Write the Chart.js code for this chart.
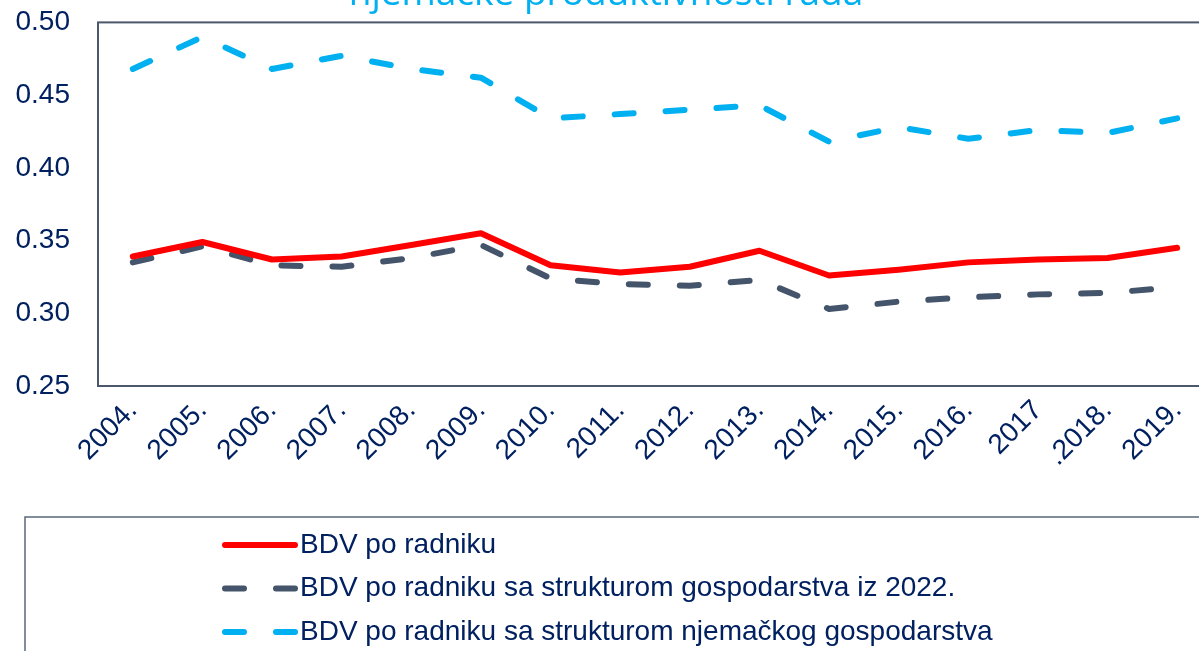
<!DOCTYPE html>
<html>
<head>
<meta charset="utf-8">
<script src="https://cdn.jsdelivr.net/npm/chart.js@4.4.0/dist/chart.umd.min.js"></script>
<style>
html, body { margin: 0; padding: 0; background: #fff; overflow: hidden; width: 1199px; height: 651px; }
#wrap { position: absolute; left: 0; top: -40px; width: 1215px; height: 691px; }
</style>
</head>
<body>
<div id="wrap"><canvas id="chart"></canvas></div>
<script>
const years = ["2004.", "2005.", "2006.", "2007.", "2008.", "2009.", "2010.", "2011.", "2012.", "2013.", "2014.", "2015.", "2016.", "2017", ".2018.", "2019."];
const bdvPoRadniku = [0.339, 0.349, 0.337, 0.339, 0.347, 0.355, 0.333, 0.328, 0.332, 0.343, 0.326, 0.330, 0.335, 0.337, 0.338, 0.345];
const bdvStruktura2022 = [0.335, 0.346, 0.333, 0.332, 0.338, 0.347, 0.324, 0.320, 0.319, 0.323, 0.303, 0.308, 0.311, 0.313, 0.314, 0.318];
const bdvStrukturaNjem = [0.468, 0.490, 0.468, 0.477, 0.468, 0.462, 0.434, 0.437, 0.440, 0.443, 0.418, 0.428, 0.420, 0.426, 0.424, 0.434];
const seriesNames = [
    "BDV po radniku",
    "BDV po radniku sa strukturom gospodarstva iz 2022.",
    "BDV po radniku sa strukturom njemačkog gospodarstva",
];
const titleText = "njemačke produktivnosti rada";
const yMin = 0.25, yMax = 0.50, yStep = 0.05;

const textColor = "#002060";
const fontFamily = "'Liberation Sans', Arial, sans-serif";
Chart.defaults.font.family = fontFamily;

// box round the plot area (right side falls outside the window)
const plotFrame = {
    id: "plotFrame",
    beforeDatasetsDraw(chart) {
        let {ctx, chartArea} = chart;
        ctx.save();
        ctx.strokeStyle = "#4B586C";
        ctx.lineWidth = 2;
        ctx.strokeRect(chartArea.left, chartArea.top, chartArea.right - chartArea.left, chartArea.bottom - chartArea.top);
        ctx.restore();
    }
};

// framed legend list under the axis, like the Excel one
const boxLegend = {
    id: "boxLegend",
    afterDraw(chart) {
        let {ctx, chartArea} = chart;
        let top = chartArea.bottom + 131;
        ctx.save();
        ctx.strokeStyle = "#5A687C";
        ctx.lineWidth = 1.5;
        ctx.strokeRect(25, top, 1400, 400);
        chart.data.datasets.forEach((ds, i) => {
            let y = top + 28 + i * 43.5;
            ctx.beginPath();
            ctx.strokeStyle = ds.borderColor;
            ctx.lineWidth = ds.borderWidth;
            ctx.lineCap = "round";
            ctx.setLineDash(ds.borderDash || []);
            ctx.moveTo(225, y);
            ctx.lineTo(295, y);
            ctx.stroke();
            ctx.setLineDash([]);
            ctx.fillStyle = textColor;
            ctx.font = `28px ${fontFamily}`;
            ctx.textBaseline = "middle";
            ctx.textAlign = "left";
            ctx.fillText(ds.label, 300, y);
        });
        ctx.restore();
    }
};

const lineStyle = {
    pointRadius: 0,
    pointHoverRadius: 0,
    borderWidth: 6,
    tension: 0,
    fill: false,
    borderCapStyle: "round",
    borderJoinStyle: "round",
};

new Chart(document.getElementById("chart"), {
    type: "line",
    data: {
        labels: years,
        datasets: [
            {...lineStyle, label: seriesNames[0], data: bdvPoRadniku, borderColor: "#FF0000", backgroundColor: "#FF0000"},
            {...lineStyle, label: seriesNames[1], data: bdvStruktura2022, borderColor: "#44546A", backgroundColor: "#44546A", borderDash: [19, 32]},
            {...lineStyle, label: seriesNames[2], data: bdvStrukturaNjem, borderColor: "#00B0F0", backgroundColor: "#00B0F0", borderDash: [19, 32]},
        ],
    },
    options: {
        responsive: true,
        maintainAspectRatio: false,
        animation: false,
        layout: { padding: { left: 0, right: 3, top: 0, bottom: 0 } },
        plugins: {
            legend: { display: false },
            tooltip: { enabled: false },
            title: {
                display: true,
                text: titleText,
                color: "#00B0F0",
                font: { family: "'Open Sans', sans-serif", size: 37, weight: "normal", lineHeight: 1.2 },
                padding: { top: 12, bottom: 6 },
            },
        },
        scales: {
            x: {
                offset: true,
                grid: { display: false, drawTicks: false },
                border: { display: false },
                ticks: {
                    color: textColor,
                    font: { size: 28 },
                    minRotation: 45,
                    maxRotation: 45,
                    autoSkip: false,
                    padding: 8,
                },
                afterFit: (scale) => { scale.height = 265; },
            },
            y: {
                min: yMin,
                max: yMax,
                grid: { display: false, drawTicks: false },
                border: { display: false },
                ticks: {
                    stepSize: yStep,
                    color: textColor,
                    font: { size: 28 },
                    padding: 28,
                    callback: (v) => v.toFixed(2),
                },
                afterFit: (scale) => { scale.width = 98; },
            },
        },
    },
    plugins: [plotFrame, boxLegend],
});
</script>
</body>
</html>
